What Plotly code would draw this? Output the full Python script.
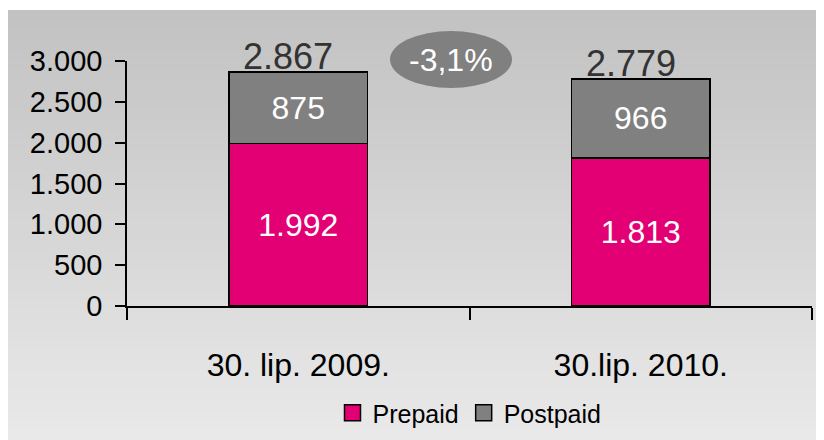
import plotly.graph_objects as go

categories = ["30. lip. 2009.", "30.lip. 2010."]
prepaid = [1992, 1813]
postpaid = [875, 966]
change_label = "-3,1%"
series_names = ["Prepaid", "Postpaid"]

totals = [a + b for a, b in zip(prepaid, postpaid)]

FONT = "Liberation Sans Narrow, Arial Narrow, Liberation Sans, Arial, sans-serif"
PINK = "#E20074"
GRAY = "#808080"


def fmt(v):
    return f"{v:,}".replace(",", ".")


fig = go.Figure()
fig.add_trace(go.Bar(
    x=categories, y=prepaid, name=series_names[0], marker=dict(color=PINK, line=dict(color="black", width=1.5)),
    text=[fmt(v) for v in prepaid], textposition="inside", insidetextanchor="middle",
    textfont=dict(color="white", size=32, family=FONT), showlegend=False))
fig.add_trace(go.Bar(
    x=categories, y=postpaid, name=series_names[1], marker=dict(color=GRAY, line=dict(color="black", width=1.5)),
    text=[fmt(v) for v in postpaid], textposition="inside", insidetextanchor="middle",
    textfont=dict(color="white", size=32, family=FONT), showlegend=False))

# legend proxies
for nm, col in zip(series_names, [PINK, GRAY]):
    fig.add_trace(go.Scatter(x=[None], y=[None], mode="markers", name=nm,
                             marker=dict(symbol="square", size=20, color=col, line=dict(color="black", width=1.5))))

for c, t in zip(categories, totals):
    fig.add_annotation(x=c, y=t, text=fmt(t), showarrow=False, xanchor="center", yanchor="bottom",
                       xshift=-10, yshift=-7, font=dict(size=36, color="#333333", family=FONT))

# layout geometry (page has an 8px body offset)
OFF = 8
FW, FH = 824, 440
L, T, W, H = 127 - OFF, 61 - OFF, 685, 245


def px(x):
    return (x - OFF - L) / W


def py(y):
    return (T + H - (y - OFF)) / H


shapes = []
n = 45
top_c, bot_c = 0xC2, 0xEB
for i in range(n):
    y0 = 10 + i * 10
    y1 = y0 + 11
    c = int(round(top_c + (bot_c - top_c) * i / (n - 1)))
    shapes.append(dict(type="rect", xref="paper", yref="paper", x0=px(7), x1=px(840),
                       y0=py(y1), y1=py(y0), fillcolor=f"rgb({c},{c},{c})", line=dict(width=0), layer="below"))
shapes.append(dict(type="circle", xref="paper", yref="paper", x0=px(390), x1=px(512), y0=py(88), y1=py(31),
                   fillcolor="#808080", line=dict(width=0), layer="above"))
fig.add_annotation(xref="paper", yref="paper", x=px(451), y=py(60), xanchor="center", yanchor="middle",
                   text=change_label, showarrow=False,
                   font=dict(size=32, color="white", family=FONT))

fig.update_layout(
    width=FW, height=FH, barmode="stack", bargap=0.596,
    margin=dict(l=L, r=FW - L - W, t=T, b=FH - T - H, autoexpand=False),
    paper_bgcolor="white", plot_bgcolor="rgba(0,0,0,0)",
    separators=",.", shapes=shapes,
    font=dict(family=FONT, color="black"),
    legend=dict(orientation="h", x=0.5, xanchor="center", y=py(413), yanchor="middle", traceorder="normal",
                font=dict(size=25, family=FONT), bgcolor="rgba(0,0,0,0)"),
)
fig.update_yaxes(range=[0, 3000], tickvals=[0, 500, 1000, 1500, 2000, 2500, 3000], tickformat=",d",
                 showgrid=False, zeroline=False, showline=True, linecolor="black", linewidth=1.5,
                 ticks="outside", ticklen=10, tickwidth=1.5, tickcolor="black", automargin=False,
                 tickfont=dict(size=29, family=FONT), ticklabelstandoff=7)
fig.update_xaxes(showgrid=False, showline=True, linecolor="black", linewidth=1.5, automargin=False,
                 ticks="outside", ticklen=12, tickwidth=1.5, tickcolor="black", tickson="boundaries",
                 tickfont=dict(size=32, family=FONT), ticklabelstandoff=30)

fig.write_html("out.html")
